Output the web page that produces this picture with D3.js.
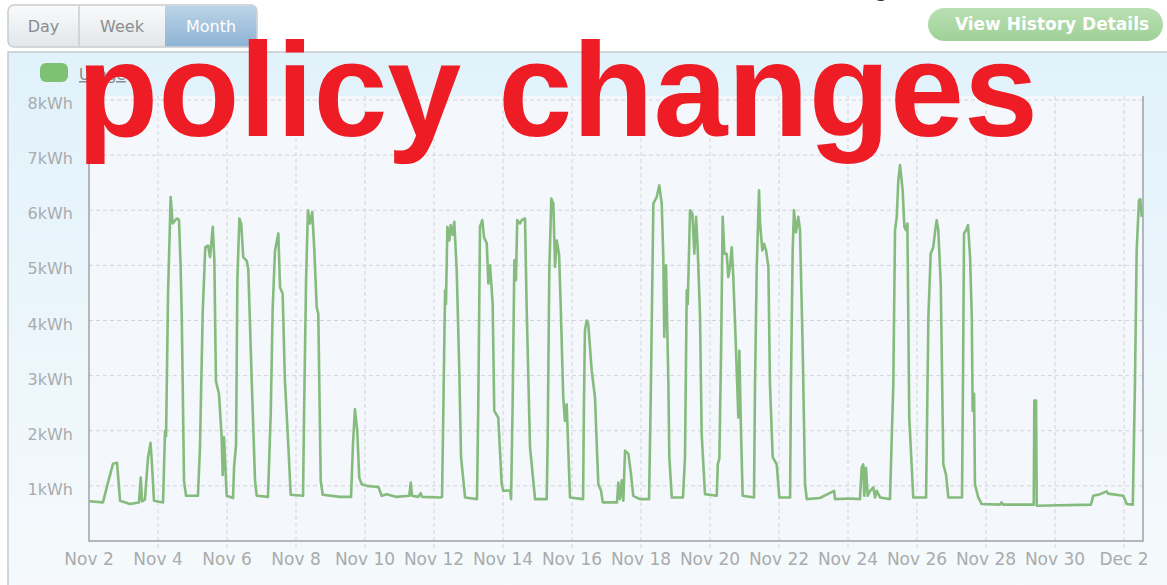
<!DOCTYPE html>
<html>
<head>
<meta charset="utf-8">
<script src="https://cdn.jsdelivr.net/npm/d3@7"></script>
<style>
  body { margin: 0; background: #fff; }
  svg { display: block; font-family: "DejaVu Sans", sans-serif; }
</style>
</head>
<body>
<svg width="1167" height="585"></svg>
<script>
// hours since Nov 2 00:00, and usage in kWh
var hours = [0, 9.7, 13.2, 16.7, 19.5, 21.6, 28.5, 34.8, 36.0, 36.9, 38.9, 41.0, 42.8, 43.8, 45.2,
  51.5, 52.9, 53.6, 55.0, 56.8, 58.2, 61.0, 62.6, 63.7, 64.5, 66.1, 67.5,
  75.8, 77.2, 79.1, 80.9, 82.8, 84.2, 86.1, 87.2, 88.3, 90.4, 92.3, 93.0, 93.9, 95.8,
  100.2, 100.9, 102.3, 103.2, 104.6, 105.9, 107.3, 109.7, 110.8, 113.2, 115.5, 116.7,
  124.5, 125.4, 126.4, 127.8, 129.4, 131.7, 132.9, 134.7, 136.3, 138.6, 140.3,
  148.9, 149.6, 151.0, 152.3, 153.7, 155.3, 156.7, 158.4, 159.5, 161.2, 162.6,
  174.6, 182.3, 183.7, 185.0, 186.6, 188.0, 189.7, 193.2, 201.3, 203.6, 207.1, 214.1,
  222.8, 223.8, 224.7, 229.1, 230.7, 231.7, 244.2,
  245.6, 247.7, 248.3, 249.3, 250.6, 251.6, 253.0, 254.1, 255.8, 257.6, 258.8, 261.6,
  269.9, 270.8, 272.0, 273.6, 274.8, 276.7, 277.8, 279.0, 280.8, 281.9, 284.7, 287.1, 288.2, 292.9,
  293.6, 294.7, 295.9, 297.0, 297.9, 299.8, 301.0, 303.3, 304.5, 306.8, 310.3,
  318.4, 319.1, 320.2, 321.6, 323.0, 324.2, 325.4, 327.0, 328.1, 329.9, 331.1, 332.3, 334.6,
  343.7, 344.3, 345.0, 346.2, 347.3, 349.7, 352.0, 353.2, 354.3, 356.2, 357.4,
  367.3, 368.2, 369.4, 370.6, 371.7, 372.9, 375.2, 377.0, 378.6, 383.3,
  389.6, 390.7, 392.6, 394.9, 396.7, 398.4, 399.5, 400.2, 401.4, 403.0, 403.7, 405.4,
  413.2, 414.6, 415.8, 416.5, 418.1, 419.7, 421.1, 422.3, 423.4, 425.0, 426.2, 428.5,
  436.7, 437.4, 438.5, 439.7, 440.8, 442.0, 443.6, 444.7, 445.9, 447.1, 448.2, 450.1, 451.7, 452.4, 453.6, 454.7,
  462.6, 463.3, 464.5, 466.1, 466.8, 468.4, 469.6, 471.0, 472.6, 473.7, 475.6, 478.4, 480.2,
  487.7, 488.3, 489.5, 490.4, 491.8, 493.4, 494.6, 496.5, 498.1, 499.3,
  508.5, 518.3, 519.0, 529.4, 536.3, 537.5, 538.6, 539.3, 540.5, 541.7, 543.3, 545.6, 546.8, 548.0, 550.3,
  557.2, 559.5, 560.7, 561.9, 563.0, 564.2, 566.0, 567.2, 568.3, 569.3, 570.6, 573.4,
  582.3, 583.9, 585.5, 587.3, 588.5, 589.7, 590.8, 592.5, 594.3, 596.2, 597.8,
  607.3, 608.0, 608.7, 610.1, 611.5, 612.9, 614.1, 614.7, 615.7, 616.3, 618.6, 621.0,
  633.7, 634.9, 635.8, 657.2, 657.6, 658.8, 659.3,
  697.0, 698.6, 703.3, 708.0, 708.9, 719.5, 721.9, 726.1, 727.6, 728.8, 730.4, 731.3, 732.3];

var kwh = [0.72, 0.70, 1.06, 1.40, 1.42, 0.73, 0.67, 0.70, 1.15, 0.72, 0.75, 1.5, 1.78, 1.4, 0.73,
  0.70, 2.0, 1.9, 4.5, 6.24, 5.76, 5.85, 5.83, 5.0, 4.12, 1.09, 0.82,
  0.82, 1.7, 4.15, 5.33, 5.36, 5.15, 5.7, 5.1, 2.9, 2.67, 1.88, 1.2, 1.88, 0.82,
  0.78, 1.33, 1.75, 4.73, 5.85, 5.75, 5.15, 5.08, 4.94, 2.91, 1.09, 0.82,
  0.80, 1.52, 2.3, 4.24, 5.27, 5.58, 4.6, 4.49, 2.9, 1.76, 0.84,
  0.82, 2.3, 4.73, 6.0, 5.76, 5.97, 5.3, 4.24, 4.12, 1.09, 0.84,
  0.80, 0.80, 1.8, 2.39, 2.0, 1.15, 1.03, 1.0, 0.98, 0.82, 0.85, 0.80,
  0.82, 1.06, 0.82, 0.80, 0.87, 0.80, 0.79,
  0.80, 4.55, 4.3, 5.7, 5.45, 5.73, 5.55, 5.79, 4.91, 3.09, 1.52, 0.79,
  0.76, 2.49, 5.7, 5.82, 5.51, 5.4, 4.67, 5.0, 4.3, 2.36, 2.24, 1.03, 0.91, 0.92,
  0.76, 2.49, 5.09, 4.73, 5.82, 5.76, 5.82, 5.85, 4.18, 1.7, 0.76,
  0.76, 1.88, 4.91, 6.21, 6.12, 4.97, 5.45, 5.2, 4.3, 2.6, 2.18, 2.48, 0.79,
  0.76, 2.49, 3.82, 4.0, 3.94, 3.09, 2.6, 1.76, 1.03, 0.91, 0.70,
  0.70, 1.06, 0.76, 1.1, 0.73, 1.64, 1.58, 1.22, 0.82, 0.76,
  0.76, 2.49, 6.12, 6.24, 6.45, 6.12, 5.15, 3.7, 5.0, 2.91, 1.52, 0.79,
  0.79, 1.52, 4.55, 4.3, 6.0, 5.94, 5.21, 5.88, 5.33, 4.12, 1.94, 0.85,
  0.82, 1.39, 1.5, 3.45, 5.88, 5.21, 5.21, 4.79, 4.97, 5.33, 4.79, 3.45, 2.24, 3.45, 1.94, 0.82,
  0.79, 2.85, 4.97, 6.36, 5.76, 5.27, 5.39, 5.27, 4.97, 2.85, 1.52, 1.39, 0.79,
  0.79, 2.85, 5.27, 6.0, 5.6, 5.88, 5.64, 3.45, 1.03, 0.76,
  0.78, 0.91, 0.76, 0.77, 0.76, 1.33, 1.39, 0.82, 1.33, 0.82, 0.91, 0.97, 0.79, 0.91, 0.79,
  0.76, 2.85, 5.64, 5.88, 6.55, 6.82, 6.36, 5.7, 5.64, 5.76, 2.24, 0.79,
  0.79, 4.06, 5.21, 5.33, 5.6, 5.82, 5.64, 4.67, 1.39, 1.2, 0.79,
  0.79, 3.0, 5.58, 5.64, 5.73, 5.15, 4.06, 2.36, 2.67, 1.03, 0.79, 0.67,
  0.66, 0.70, 0.66, 0.66, 2.55, 2.55, 0.64,
  0.66, 0.82, 0.85, 0.9, 0.86, 0.82, 0.67, 0.66, 2.85, 5.27, 6.18, 6.2, 5.88];

var yTicks = [1, 2, 3, 4, 5, 6, 7, 8];
var xTickLabels = ["Nov 2", "Nov 4", "Nov 6", "Nov 8", "Nov 10", "Nov 12", "Nov 14", "Nov 16",
  "Nov 18", "Nov 20", "Nov 22", "Nov 24", "Nov 26", "Nov 28", "Nov 30", "Dec 2"];
var buttons = ["Day", "Week", "Month"];

var start = Date.UTC(2012, 10, 2);
var end = new Date(start + 733.2 * 3600e3);

var data = hours.map(function(h, i) {
  return { t: new Date(start + h * 3600e3), v: kwh[i] };
});

var svg = d3.select("svg");
var defs = svg.append("defs");

var panelGrad = defs.append("linearGradient").attr("id", "panel")
  .attr("x1", 0).attr("y1", 0).attr("x2", 0).attr("y2", 1);
panelGrad.append("stop").attr("offset", "0%").attr("stop-color", "#e1f2fb");
panelGrad.append("stop").attr("offset", "100%").attr("stop-color", "#f6fafc");

var btnGrad = defs.append("linearGradient").attr("id", "btn")
  .attr("x1", 0).attr("y1", 0).attr("x2", 0).attr("y2", 1);
btnGrad.append("stop").attr("offset", "0%").attr("stop-color", "#f9fafb");
btnGrad.append("stop").attr("offset", "100%").attr("stop-color", "#e3e7ea");

var selGrad = defs.append("linearGradient").attr("id", "sel")
  .attr("x1", 0).attr("y1", 0).attr("x2", 0).attr("y2", 1);
selGrad.append("stop").attr("offset", "0%").attr("stop-color", "#bcd4e8");
selGrad.append("stop").attr("offset", "100%").attr("stop-color", "#8db3d4");

var greenGrad = defs.append("linearGradient").attr("id", "green")
  .attr("x1", 0).attr("y1", 0).attr("x2", 0).attr("y2", 1);
greenGrad.append("stop").attr("offset", "0%").attr("stop-color", "#b9e0b2");
greenGrad.append("stop").attr("offset", "100%").attr("stop-color", "#9fd098");

// panel
svg.append("rect").attr("x", 8).attr("y", 52).attr("width", 1170).attr("height", 545)
  .attr("fill", "url(#panel)").attr("stroke", "#c6cacd").attr("stroke-width", 1.5);

// title, mostly cut off at the top edge
svg.append("text").attr("x", 900).attr("y", -3).attr("text-anchor", "end")
  .attr("font-size", 20).attr("fill", "#333").text("Usage");

// Day / Week / Month
var bx = d3.scaleOrdinal().domain(buttons).range([8, 79, 165]);
var bw = { "Day": 71, "Week": 86, "Month": 92 };
svg.append("rect").attr("x", 8).attr("y", 5).attr("width", 249).attr("height", 42)
  .attr("rx", 6).attr("fill", "url(#btn)").attr("stroke", "#c8cdd1").attr("stroke-width", 1.5);
svg.append("path")
  .attr("d", "M165,5.75 H251 A5.25,5.25 0 0 1 256.25,11 V41 A5.25,5.25 0 0 1 251,46.25 H165 Z")
  .attr("fill", "url(#sel)");
svg.append("line").attr("x1", 79).attr("x2", 79).attr("y1", 6).attr("y2", 46)
  .attr("stroke", "#c8cdd1").attr("stroke-width", 1.5);
svg.selectAll(".btn").data(buttons).enter().append("text")
  .attr("x", function(d) { return bx(d) + bw[d] / 2; })
  .attr("y", 32)
  .attr("text-anchor", "middle")
  .attr("font-size", 16)
  .attr("fill", function(d) { return d == "Month" ? "#fff" : "#8a8d90"; })
  .text(function(d) { return d; });

// View History Details
svg.append("rect").attr("x", 928).attr("y", 8).attr("width", 235).attr("height", 33)
  .attr("rx", 16.5).attr("fill", "url(#green)");
svg.append("text").attr("x", 1052).attr("y", 30).attr("text-anchor", "middle")
  .attr("font-size", 17).attr("font-weight", "bold").attr("fill", "#fff")
  .text("View History Details");

// chart
var x = d3.scaleUtc().domain([new Date(start), end]).range([89, 1143]);
var y = d3.scaleLinear().domain([0, 8]).range([541, 100]);
var xTicks = d3.utcDay.range(new Date(start), end, 2);

svg.append("rect").attr("x", 89).attr("y", 96).attr("width", 1054).attr("height", 445)
  .attr("fill", "#f4f7fb");

svg.append("g").selectAll("line").data(yTicks).enter().append("line")
  .attr("x1", 89).attr("x2", 1143)
  .attr("y1", function(d) { return y(d); }).attr("y2", function(d) { return y(d); })
  .attr("stroke", "#d3d4db").attr("stroke-dasharray", "4,3");

svg.append("g").selectAll("line").data(xTicks.slice(1)).enter().append("line")
  .attr("x1", function(d) { return x(d); }).attr("x2", function(d) { return x(d); })
  .attr("y1", 96).attr("y2", 551)
  .attr("stroke", "#d3d4db").attr("stroke-dasharray", "4,3");

svg.append("path")
  .attr("d", "M89,96 V541 H1143 V96")
  .attr("fill", "none").attr("stroke", "#9fa3a6").attr("stroke-width", 1.5);

svg.append("g").selectAll("text").data(yTicks).enter().append("text")
  .attr("x", 73).attr("y", function(d) { return y(d) + 9; })
  .attr("text-anchor", "end").attr("font-size", 16).attr("fill", "#a9abad")
  .text(function(d) { return d + "kWh"; });

svg.append("g").selectAll("text").data(xTicks).enter().append("text")
  .attr("x", function(d) { return x(d); }).attr("y", 565)
  .attr("text-anchor", "middle").attr("font-size", 17).attr("fill", "#a9abad")
  .text(function(d, i) { return xTickLabels[i]; });

var line = d3.line()
  .x(function(d) { return x(d.t); })
  .y(function(d) { return y(d.v); });

svg.append("path").datum(data)
  .attr("d", line)
  .attr("fill", "none")
  .attr("stroke", "#85bc7e")
  .attr("stroke-width", 2.6)
  .attr("stroke-linejoin", "round");

// legend
svg.append("rect").attr("x", 40).attr("y", 63).attr("width", 28).attr("height", 19)
  .attr("rx", 6).attr("fill", "#7fc174");
svg.append("text").attr("x", 79).attr("y", 80).attr("font-size", 15)
  .attr("fill", "#888").attr("text-decoration", "underline").text("Usage");

// overlay text
svg.append("text").attr("x", 77).attr("y", 136)
  .attr("font-family", "'Liberation Sans', Arial, sans-serif")
  .attr("font-weight", "bold").attr("font-size", 133).attr("fill", "#ee1c25")
  .text("policy changes");
</script>
</body>
</html>
